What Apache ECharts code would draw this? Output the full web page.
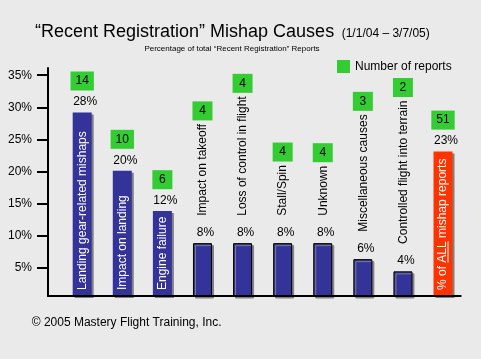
<!DOCTYPE html>
<html><head><meta charset="utf-8">
<script src="https://cdn.jsdelivr.net/npm/echarts@6/dist/echarts.min.js"></script>
<style>html,body{margin:0;padding:0;background:#eaeaea}#c{width:481px;height:359px}</style>
</head><body><div id="c"></div>
<script>
const categories = ['Landing gear-related mishaps','Impact on landing','Engine failure','Impact on takeoff','Loss of control in flight','Stall/Spin','Unknown','Miscellaneous causes','Controlled flight into terrain','% of ALL mishap reports'];
const barValues = [29.2, 20.1, 13.8, 8.8, 8.8, 8.8, 8.8, 6.3, 4.4, 23.1];
const percentLabels = ['28%','20%','12%','8%','8%','8%','8%','6%','4%','23%'];
const reportCounts = [14, 10, 6, 4, 4, 4, 4, 3, 2, 51];
const yTicks = [5, 10, 15, 20, 25, 30, 35];
const legendName = 'Number of reports';

const FONT = "'Liberation Sans', Arial, sans-serif";
const mctx = document.createElement('canvas').getContext('2d');
function tw(t, size) { mctx.font = size + 'px ' + FONT; return mctx.measureText(t).width; }
const insideIdx = [0, 1, 2, 9];
const Y_MIN = 0.55, Y_MAX = 36.13;
const NAVY = '#333399', RED = '#ff3300', GREEN = '#33cc33';

function txt(x, y, text, size, fill, align, rot) {
  const el = { type: 'text', x: x, y: y, style: { text: text, font: size + 'px ' + FONT, fill: fill, textAlign: align, textVerticalAlign: 'middle', align: align, verticalAlign: 'middle' } };
  if (rot) el.rotation = rot;
  return el;
}

function renderItem(params, api) {
  const i = params.dataIndex;
  const top = api.coord([i, barValues[i]]);
  const base = api.coord([i, Y_MIN]);
  const cx = top[0];
  const inside = insideIdx.indexOf(i) >= 0;
  const pctY = top[1] - 10.4;
  const children = [];
  children.push(txt(cx + 3, pctY, percentLabels[i], 12, '#000', 'center'));
  let boxC;
  if (inside) {
    const start = base[1] - 6;
    children.push(txt(cx, start, categories[i], 12, '#fff', 'left', Math.PI / 2));
    const k = categories[i].indexOf('ALL');
    if (k >= 0) {
      const a = tw(categories[i].slice(0, k), 12), b = tw(categories[i].slice(0, k + 3), 12);
      children.push({ type: 'line', shape: { x1: cx + 5, y1: start - a, x2: cx + 5, y2: start - b }, style: { stroke: '#fff', lineWidth: 1 } });
    }
    boxC = pctY - 21;
  } else {
    const bottom = pctY - 17;
    const w = tw(categories[i], 12);
    children.push(txt(cx + 0.5, bottom, categories[i], 12, '#000', 'left', Math.PI / 2));
    boxC = bottom - w - 3.5 - 9.5;
  }
  const cnt = String(reportCounts[i]);
  const bw = Math.max(20, tw(cnt, 12) + 10);
  children.push({ type: 'rect', shape: { x: cx - bw / 2, y: boxC - 9.5, width: bw, height: 19 }, style: { fill: GREEN } });
  children.push(txt(cx, boxC, cnt, 12, '#000', 'center'));
  return { type: 'group', children: children };
}

const chart = echarts.init(document.getElementById('c'), null, { renderer: 'canvas' });
chart.setOption({
  backgroundColor: '#eaeaea',
  animation: false,
  textStyle: { fontFamily: FONT },
  grid: { left: 48, right: 20.3, top: 68, bottom: 63, containLabel: false },
  xAxis: {
    type: 'value', min: -0.853, max: 9.441, z: 5,
    axisLine: { show: true, onZero: false, lineStyle: { color: '#000', width: 2 } },
    axisTick: { show: false }, axisLabel: { show: false }, splitLine: { show: false }
  },
  yAxis: {
    type: 'value', min: Y_MIN, max: Y_MAX,
    axisLine: { show: true, onZero: false, lineStyle: { color: '#000', width: 2 } },
    axisTick: { show: true, customValues: yTicks, length: 11, lineStyle: { color: '#000', width: 2 } },
    axisLabel: { customValues: yTicks, margin: 16, color: '#000', fontSize: 12, fontFamily: FONT,
      formatter: function (v) { return yTicks.indexOf(v) >= 0 ? v + '%' : ''; } },
    splitLine: { show: false }
  },
  legend: {
    data: [{ name: legendName, icon: 'rect' }],
    left: 337, top: 60, padding: 0, itemWidth: 13, itemHeight: 13,
    textStyle: { fontSize: 12, color: '#000', fontFamily: FONT }
  },
  graphic: [
    txt(35, 32.2, '\u201CRecent Registration\u201D Mishap Causes', 18, '#000', 'left'),
    txt(341.7, 33.5, '(1/1/04 \u2013 3/7/05)', 12, '#000', 'left'),
    txt(232, 49, 'Percentage of total \u201CRecent Registration\u201D Reports', 8, '#000', 'center'),
    txt(31.7, 322.8, '\u00A9 2005 Mastery Flight Training, Inc.', 12, '#000', 'left')
  ],
  series: [
    {
      type: 'bar', barWidth: 19,
      data: barValues.map(function (v, i) {
        const inside = insideIdx.indexOf(i) >= 0;
        return { value: [i, v], itemStyle: {
          color: i === barValues.length - 1 ? RED : NAVY,
          borderColor: '#000', borderWidth: inside ? 0 : 1,
          shadowColor: '#808080', shadowOffsetX: 2, shadowOffsetY: 2, shadowBlur: 0 } };
      })
    },
    {
      type: 'custom', name: legendName, itemStyle: { color: GREEN },
      data: barValues.map(function (v, i) { return [i, v]; }),
      encode: { x: 0, y: 1 },
      renderItem: renderItem, z: 4
    }
  ]
});
</script></body></html>
